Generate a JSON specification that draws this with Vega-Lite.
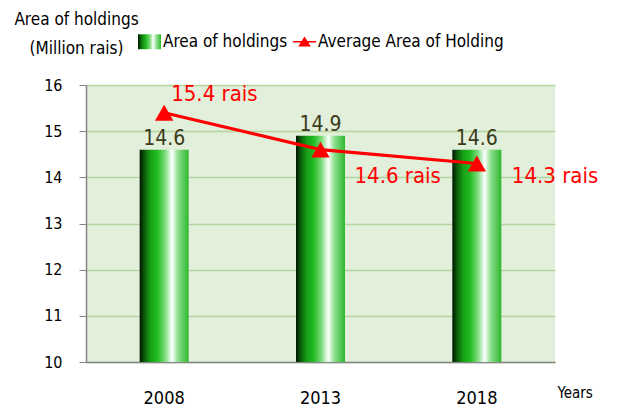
{
  "$schema": "https://vega.github.io/schema/vega-lite/v6.json",
  "width": 469,
  "height": 277,
  "autosize": {"type": "none"},
  "padding": {"left": 86, "top": 85, "right": 63, "bottom": 56},
  "background": "white",
  "config": {
    "font": "DejaVu Sans Condensed, Liberation Sans",
    "view": {"fill": "#e2efda", "stroke": null}
  },
  "data": {
    "values": [
      {"year": "2008", "area": 14.6, "avg": 15.4, "avgLabel": "15.4 rais"},
      {"year": "2013", "area": 14.9, "avg": 14.6, "avgLabel": "14.6 rais"},
      {"year": "2018", "area": 14.6, "avg": 14.3, "avgLabel": "14.3 rais"}
    ]
  },
  "encoding": {
    "x": {
      "field": "year",
      "type": "ordinal",
      "scale": {"paddingInner": 0, "paddingOuter": 0},
      "axis": {
        "title": "Years",
        "titleX": 471,
        "titleY": 35,
        "titleAlign": "left",
        "titleBaseline": "alphabetic",
        "titleFontSize": 15,
        "titleFontWeight": "normal",
        "titleColor": "#000000",
        "labelAngle": 0,
        "labelFontSize": 18,
        "labelColor": "#000000",
        "labelPadding": 41,
        "labelBaseline": "alphabetic",
        "ticks": false,
        "domainColor": "#868686",
        "domainWidth": 1.5,
        "grid": false
      }
    }
  },
  "layer": [
    {
      "mark": {
        "type": "bar",
        "width": 49,
        "fill": {
          "gradient": "linear",
          "x1": 0, "y1": 0, "x2": 1, "y2": 0,
          "stops": [
            {"offset": 0, "color": "#001400"},
            {"offset": 0.1, "color": "#0b5e0b"},
            {"offset": 0.22, "color": "#17a017"},
            {"offset": 0.36, "color": "#22bb22"},
            {"offset": 0.52, "color": "#7cdc7c"},
            {"offset": 0.66, "color": "#ffffff"},
            {"offset": 0.78, "color": "#8ee08e"},
            {"offset": 1, "color": "#2eb82e"}
          ]
        }
      },
      "encoding": {
        "y": {
          "field": "area",
          "type": "quantitative",
          "scale": {"domain": [10, 16], "nice": false, "zero": false},
          "axis": {
            "values": [10, 11, 12, 13, 14, 15, 16],
            "title": ["Area of holdings", "(Million rais)"],
            "titleAngle": 0,
            "titleX": -10,
            "titleY": -61,
            "titleAlign": "center",
            "titleBaseline": "alphabetic",
            "titleFontSize": 17,
            "titleFontWeight": "normal",
            "titleLineHeight": 29,
            "titleColor": "#000000",
            "labelFontSize": 16,
            "labelColor": "#000000",
            "labelPadding": 17,
            "tickSize": 7,
            "tickColor": "#868686",
            "domainColor": "#868686",
            "domainWidth": 1.5,
            "gridColor": "#b5d4a0",
            "gridWidth": 1.3
          }
        },
        "y2": {"datum": 10}
      }
    },
    {
      "mark": {"type": "text", "dy": -5, "fontSize": 21, "color": "#3b3b1b", "baseline": "alphabetic", "align": "center"},
      "encoding": {
        "y": {"field": "area", "type": "quantitative"},
        "text": {"field": "area", "type": "quantitative", "format": ".1f"}
      }
    },
    {
      "mark": {"type": "line", "strokeWidth": 3.2},
      "encoding": {
        "y": {"field": "avg", "type": "quantitative"},
        "color": {
          "datum": "Average Area of Holding",
          "type": "nominal",
          "scale": {
            "domain": ["Area of holdings", "Average Area of Holding"],
            "range": ["#22b022", "#ff0000"]
          },
          "legend": {
            "orient": "none",
            "legendX": 52,
            "legendY": -55,
            "direction": "horizontal",
            "title": null,
            "padding": 0,
            "labelFontSize": 17,
            "labelColor": "#000000",
            "labelOffset": 2,
            "labelLimit": 400,
            "columnPadding": 5,
            "symbolSize": 529,
            "symbolStrokeWidth": 0,
            "encode": {
              "symbols": {
                "update": {
                  "shape": [
                    {"test": "datum.value === 'Area of holdings'", "value": "M-1,-0.65H1V0.65H-1Z"},
                    {"value": "M-1,-0.07H1V0.07H-1Z M0,-0.45L0.55,0.42H-0.55Z"}
                  ],
                  "fill": [
                    {
                      "test": "datum.value === 'Area of holdings'",
                      "value": {
                        "gradient": "linear",
                        "x1": 0, "y1": 0, "x2": 1, "y2": 0,
                        "stops": [
                          {"offset": 0, "color": "#001400"},
                          {"offset": 0.15, "color": "#0b7a0b"},
                          {"offset": 0.35, "color": "#22bb22"},
                          {"offset": 0.52, "color": "#7cdc7c"},
                          {"offset": 0.66, "color": "#ffffff"},
                          {"offset": 0.8, "color": "#8ee08e"},
                          {"offset": 1, "color": "#2eb82e"}
                        ]
                      }
                    },
                    {"value": "#ff0000"}
                  ],
                  "stroke": {"value": "transparent"},
                  "strokeWidth": {"value": 0},
                  "opacity": {"value": 1}
                }
              }
            }
          }
        }
      }
    },
    {
      "mark": {"type": "point", "shape": "triangle-up", "size": 340, "filled": true, "opacity": 1, "color": "#ff0000"},
      "encoding": {
        "y": {"field": "avg", "type": "quantitative"}
      }
    },
    {
      "transform": [{"filter": "datum.year === '2008'"}],
      "mark": {"type": "text", "align": "left", "baseline": "alphabetic", "dx": 7, "dy": -12, "fontSize": 22, "color": "#ff0000"},
      "encoding": {
        "y": {"field": "avg", "type": "quantitative"},
        "text": {"field": "avgLabel", "type": "nominal"}
      }
    },
    {
      "transform": [{"filter": "datum.year === '2013'"}],
      "mark": {"type": "text", "align": "left", "baseline": "alphabetic", "dx": 34, "dy": 33, "fontSize": 22, "color": "#ff0000"},
      "encoding": {
        "y": {"field": "avg", "type": "quantitative"},
        "text": {"field": "avgLabel", "type": "nominal"}
      }
    },
    {
      "transform": [{"filter": "datum.year === '2018'"}],
      "mark": {"type": "text", "align": "left", "baseline": "alphabetic", "dx": 35, "dy": 19.5, "fontSize": 22, "color": "#ff0000"},
      "encoding": {
        "y": {"field": "avg", "type": "quantitative"},
        "text": {"field": "avgLabel", "type": "nominal"}
      }
    }
  ]
}
